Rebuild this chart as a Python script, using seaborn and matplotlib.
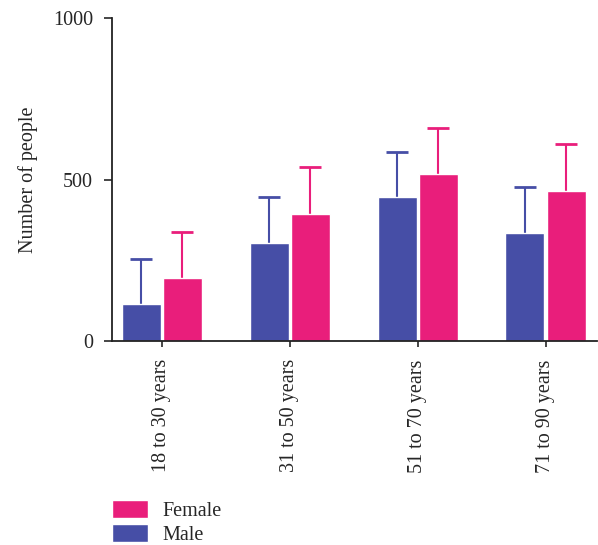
import pandas as pd
import matplotlib
matplotlib.use('Agg')
import matplotlib.pyplot as plt
import seaborn as sns

# Veriler
age_groups = ['18 to 30 years', '31 to 50 years', '51 to 70 years', '71 to 90 years']
male_counts = [115, 305, 446, 336]
female_counts = [194, 395, 516, 466]
male_err = [140, 142, 140, 141]
female_err = [144, 145, 144, 145]

renkler = {'Male': '#464EA6', 'Female': '#E91E7B'}

veriler = pd.DataFrame({
    'Age': age_groups * 2,
    'Sex': ['Male'] * 4 + ['Female'] * 4,
    'Count': male_counts + female_counts,
})

sns.set_style('ticks')
plt.rcParams['font.family'] = ['Liberation Serif', 'DejaVu Serif']

fig = plt.figure(figsize=(5.98, 5.45), dpi=100)
ax = fig.add_axes([0.187, 0.374, 0.811, 0.593])

sns.barplot(data=veriler, x='Age', y='Count', hue='Sex', hue_order=['Male', 'Female'],
            palette=renkler, errorbar=None, width=0.645, gap=0.055, saturation=1,
            legend=False, ax=ax, zorder=2)

# Hata çubukları (yalnızca yukarı)
for cont, err, sex in zip(ax.containers, [male_err, female_err], ['Male', 'Female']):
    xs = [p.get_x() + p.get_width() / 2 for p in cont.patches]
    ys = [p.get_height() for p in cont.patches]
    _, caps, _ = ax.errorbar(xs, ys, yerr=[[0] * len(err), err], fmt='none',
                             ecolor=renkler[sex], elinewidth=1.5, capsize=7.8,
                             capthick=2, zorder=1)
    for c in caps:
        if list(c.get_ydata()) == ys:
            c.set_visible(False)

ax.set_ylim(0, 1000)
ax.set_xlim(-0.39, 3.4)
ax.set_yticks([0, 500, 1000])
ax.set_xlabel('')
ax.set_ylabel('Number of people', fontsize=14.5, labelpad=11)
ax.tick_params(axis='y', labelsize=14.5, length=5.5, width=1.2, pad=8)
ax.tick_params(axis='x', labelsize=14.5, length=4, width=1.2, rotation=90, pad=9)
for s in ['left', 'bottom']:
    ax.spines[s].set_linewidth(1.3)
    ax.spines[s].set_color('#222222')
sns.despine(ax=ax)

handles = [ax.containers[1].patches[0], ax.containers[0].patches[0]]
fig.legend(handles, ['Female', 'Male'], loc='lower left', bbox_to_anchor=(0.187, 0.0),
           frameon=False, fontsize=14.5, handlelength=1.8, handleheight=0.98,
           handletextpad=0.7, labelspacing=0.15, borderpad=0, borderaxespad=0)

plt.savefig('out.png', dpi=100)
